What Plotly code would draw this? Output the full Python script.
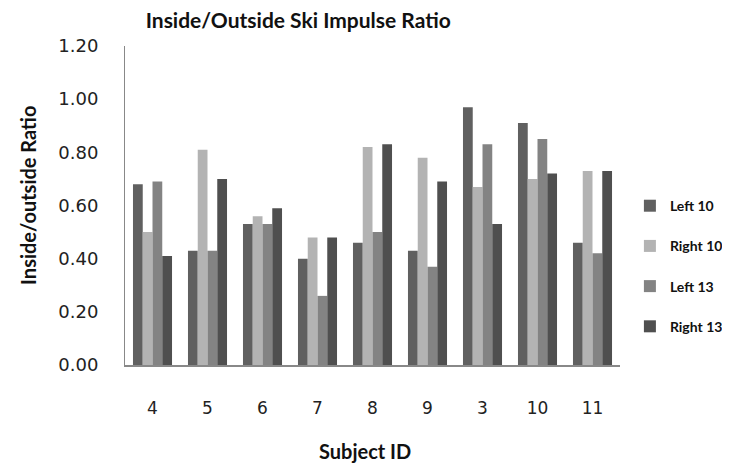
import plotly.graph_objects as go

# Subject IDs in the order shown
subjects = ["4", "5", "6", "7", "8", "9", "3", "10", "11"]

left_10 = [0.68, 0.43, 0.53, 0.40, 0.46, 0.43, 0.97, 0.91, 0.46]
right_10 = [0.50, 0.81, 0.56, 0.48, 0.82, 0.78, 0.67, 0.70, 0.73]
left_13 = [0.69, 0.43, 0.53, 0.26, 0.50, 0.37, 0.83, 0.85, 0.42]
right_13 = [0.41, 0.70, 0.59, 0.48, 0.83, 0.69, 0.53, 0.72, 0.73]

y_ticks = [0.0, 0.2, 0.4, 0.6, 0.8, 1.0, 1.2]

series = [
    ("Left 10", left_10, "#606060"),
    ("Right 10", right_10, "#b3b3b3"),
    ("Left 13", left_13, "#838383"),
    ("Right 13", right_13, "#4f4f4f"),
]

# page body has an 8px margin, so the figure is sized to fit the window
W, H = 722, 459

fig = go.Figure()
for name, vals, color in series:
    fig.add_trace(go.Bar(
        x=subjects, y=vals, name="<b>" + name + "</b>",
        marker=dict(color=color, line=dict(width=0)),
        legendgroup=name,
    ))

fig.update_layout(
    width=W, height=H,
    margin=dict(l=117, r=110, t=38, b=102, autoexpand=False),
    paper_bgcolor="white", plot_bgcolor="white",
    font=dict(family="Lato, Calibri, sans-serif", color="#222222"),
    barmode="group", bargap=0.29, bargroupgap=0,
    title=dict(
        text="<b>Inside/Outside Ski Impulse Ratio</b>",
        x=0.35, xref="paper", xanchor="center",
        y=1 - 13 / H, yref="container", yanchor="middle",
        font=dict(size=21, color="#111111"),
    ),
    legend=dict(
        x=1.02, y=0.31, xanchor="left", yanchor="middle",
        font=dict(size=14, color="#111111"),
        tracegroupgap=19, itemwidth=30,
    ),
    showlegend=True,
)

# axis titles as annotations for exact placement
fig.add_annotation(
    text="<b>Subject ID</b>", xref="paper", yref="paper",
    x=0.485, y=-86 / 319, xanchor="center", yanchor="middle",
    showarrow=False, font=dict(size=20, color="#111111"),
)
fig.add_annotation(
    text="<b>Inside/outside Ratio</b>", xref="paper", yref="paper",
    x=-97 / 495, y=0.53, xanchor="center", yanchor="middle", textangle=-90,
    showarrow=False, font=dict(size=20, color="#111111"),
)

fig.update_xaxes(
    showline=True, linecolor="#888888", linewidth=2,
    ticks="", ticklabelstandoff=27, automargin=False,
    tickfont=dict(family="DejaVu Sans", size=17, color="#222222"),
    showgrid=False,
)

fig.update_yaxes(
    range=[0, 1.2], tickvals=y_ticks, tickformat=".2f",
    showline=True, linecolor="#888888", linewidth=1,
    ticks="", ticklabelstandoff=22, automargin=False,
    tickfont=dict(family="DejaVu Sans", size=18, color="#222222"),
    showgrid=False, zeroline=False,
)

fig.write_html("out.html")
